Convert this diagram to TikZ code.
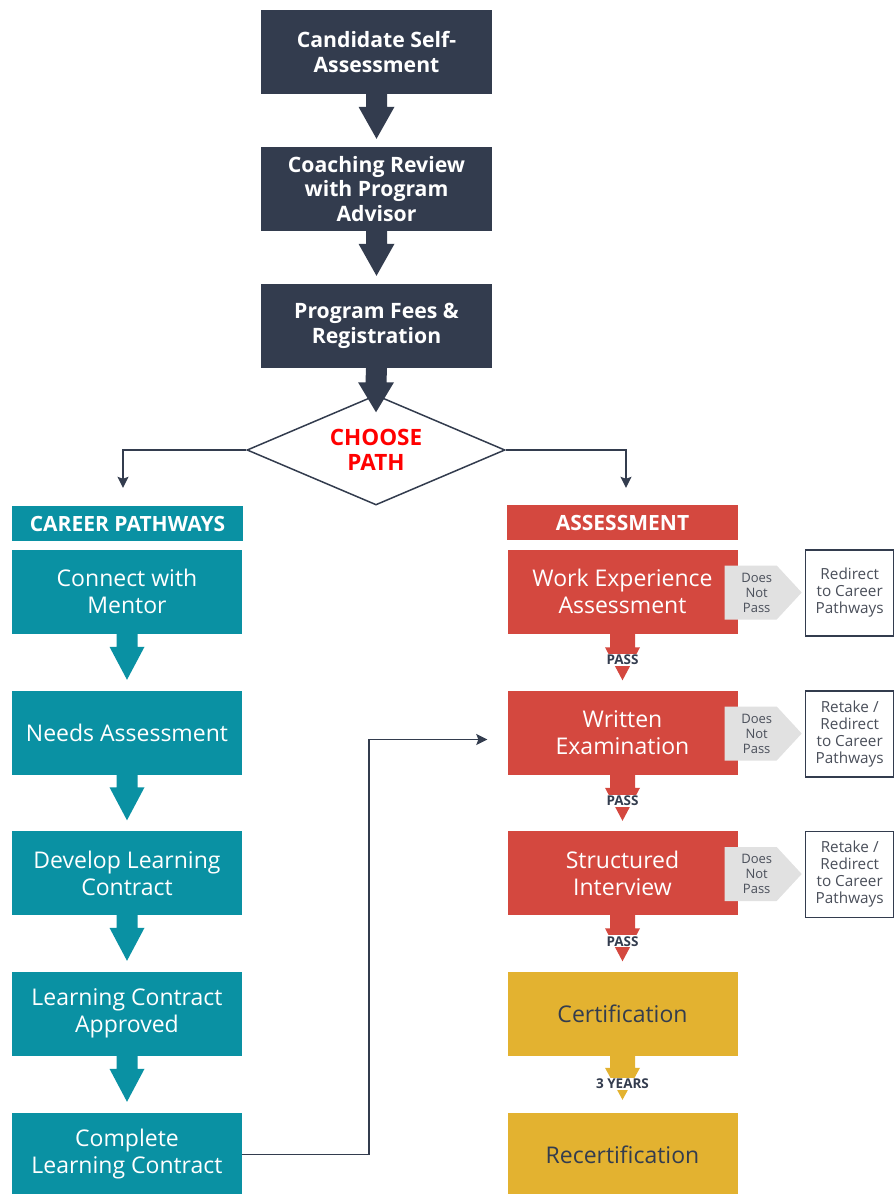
\documentclass[tikz,border=0pt]{standalone}
\usepackage{fontspec}
\setmainfont{Open Sans}
\usepackage{xcolor}
\usepackage{tikz}
\usetikzlibrary{arrows.meta,calc,shapes.geometric}
\definecolor{navyDark}{HTML}{333C4E}
\definecolor{pathTeal}{HTML}{0A91A3}
\definecolor{examRed}{HTML}{D4483F}
\definecolor{certGold}{HTML}{E3B230}
\definecolor{failGrey}{HTML}{E1E1E1}
\definecolor{noteGrey}{HTML}{4A4F5A}
\definecolor{choiceRed}{HTML}{FF0000}
% block arrow: colour, from, to, shaft half width, head half width, head length, gap
\newcommand{\blockarrow}[7]{%
  \fill[#1] ($(#2.south)+(-#4,0)$) -- ($(#2.south)+(#4,0)$)
    -- ($(#3.north)+(#4,{-(#6)-(#7)})$) -- ($(#3.north)+(#5,{-(#6)-(#7)})$)
    -- ($(#3.north)+(0,{-(#7)})$)
    -- ($(#3.north)+(-#5,{-(#6)-(#7)})$) -- ($(#3.north)+(-#4,{-(#6)-(#7)})$) -- cycle;}

\begin{document}
\begin{tikzpicture}[x=1pt,y=-1pt,
  darkbox/.style={fill=navyDark, text=white, align=center, inner sep=0pt,
    minimum width=231pt, minimum height=84pt, font=\bfseries\fontsize{21.2}{24.5}\selectfont},
  choice/.style={diamond, draw=navyDark, line width=1.5pt, fill=white, aspect=2.35,
    minimum width=258pt, minimum height=110pt, inner sep=0pt, align=center,
    text=choiceRed, font=\bfseries\fontsize{22.5}{25}\selectfont},
  headbox/.style={text=white, inner sep=0pt, minimum width=231pt, minimum height=35pt,
    font=\bfseries\fontsize{21}{22}\selectfont},
  stepbox/.style={text=white, align=center, inner sep=0pt, minimum width=230pt,
    minimum height=84pt, font=\fontsize{23}{27}\selectfont},
  redirect/.style={draw=navyDark, line width=1.5pt, fill=white, align=center, inner sep=0pt,
    minimum width=88pt, minimum height=86pt, text=noteGrey, font=\fontsize{15.3}{17}\selectfont},
  failnote/.style={text=noteGrey, align=center, font=\fontsize{13}{15}\selectfont},
  passtag/.style={fill=white, inner xsep=1.5pt, inner ysep=1pt, text=navyDark,
    font=\bfseries\fontsize{13.5}{14}\selectfont},
  link/.style={draw=navyDark, line width=1.6pt, -{Stealth[length=11pt,width=11pt,inset=2pt]}}]
\useasboundingbox (0,0) rectangle (895,1194);
% intake steps
\node[darkbox] (selfassess) at (376.5,52) {Candidate Self-\\Assessment};
\node[darkbox] (coaching) at (376.5,189) {Coaching Review\\with Program\\Advisor};
\node[darkbox] (fees) at (376.5,326) {Program Fees \&\\Registration};
\node[choice] (path) at (376,450) {CHOOSE\\PATH};
\blockarrow{navyDark}{selfassess}{coaching}{10.5}{18}{32}{8}
\blockarrow{navyDark}{coaching}{fees}{10.5}{18}{32}{8}
\blockarrow{navyDark}{fees}{path}{10.5}{18}{30}{-18}
% career pathways column
\node[headbox, fill=pathTeal] (cphead) at (127.5,523.5) {CAREER PATHWAYS};
\foreach \name/\y/\txt in {mentor/591.5/{Connect with\\Mentor}, needs/732.5/{Needs Assessment},
    develop/873/{Develop Learning\\Contract}, approved/1013.5/{Learning Contract\\Approved},
    complete/1154.5/{Complete\\Learning Contract}}
  \node[stepbox, fill=pathTeal] (\name) at (127,\y) {\txt};
\foreach \a/\b in {mentor/needs, needs/develop, develop/approved, approved/complete}
  \blockarrow{pathTeal}{\a}{\b}{10.5}{17.5}{33}{10.5}
% assessment column
\node[headbox, fill=examRed] (ashead) at (622.5,522.5) {ASSESSMENT};
\foreach \name/\y/\txt in {workexp/591.5/{Work Experience\\Assessment}, written/732.5/{Written\\Examination},
    interview/873/{Structured\\Interview}}
  \node[stepbox, fill=examRed] (\name) at (622.5,\y) {\txt};
\node[stepbox, fill=certGold, text=navyDark] (cert) at (622.5,1013.5) {Certification};
\node[stepbox, fill=certGold, text=navyDark] (recert) at (622.5,1154.5) {Recertification};
\foreach \a/\b in {workexp/written, written/interview, interview/cert} {
  \blockarrow{examRed}{\a}{\b}{12.5}{17.5}{33}{10}
  \node[passtag] at ($(\a.south)!0.5!(\b.north)+(0,-2)$) {PASS};
}
\blockarrow{certGold}{cert}{recert}{12.5}{17.5}{32}{12.5}
\node[passtag] at ($(cert.south)!0.5!(recert.north)$) {3 YEARS};
% failed steps
\foreach \src/\rd/\msg in {workexp/rd1/{Redirect\\to Career\\Pathways},
    written/rd2/{Retake /\\Redirect\\to Career\\Pathways},
    interview/rd3/{Retake /\\Redirect\\to Career\\Pathways}} {
  \fill[failGrey] ($(\src.east)+(-13,-26)$) -- ++(52,0) -- ($(\src.east)+(64,1)$)
    -- ($(\src.east)+(39,28)$) -- ++(-52,0) -- cycle;
  \node[failnote] at ($(\src.east)+(19,1)$) {Does\\Not\\Pass};
  \node[redirect] (\rd) at ($(\src.east)+(112,1.5)$) {\msg};
}
% connectors
\draw[link] (path.west) -| ($(cphead.north)+(-4.5,-18)$);
\draw[link] (path.east) -| ($(ashead.north)+(3.5,-17)$);
\draw[link] (complete.east) -- ++(127,0) |- ($(written.west)+(-20,7)$);
\end{tikzpicture}
\end{document}
